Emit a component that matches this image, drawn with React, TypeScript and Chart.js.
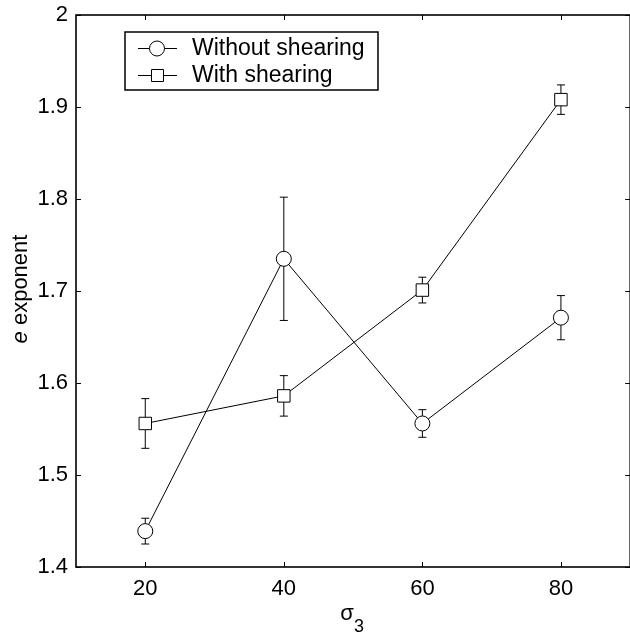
import { useEffect, useRef } from 'react';
import { Chart, registerables } from 'chart.js';

Chart.register(...registerables);

const sigma3 = [20, 40, 60, 80];
const withoutShearing = [1.439, 1.735, 1.556, 1.671];
const withoutShearingErr = [0.014, 0.067, 0.015, 0.024];
const withShearing = [1.556, 1.586, 1.701, 1.908];
const withShearingErr = [0.027, 0.022, 0.014, 0.016];
const seriesNames = ['Without shearing', 'With shearing'];
const xTickValues = [20, 40, 60, 80];
const yTickValues = [1.4, 1.5, 1.6, 1.7, 1.8, 1.9, 2.0];

const FONT = '"Liberation Sans", Arial, Helvetica, sans-serif';
const errors = [withoutShearingErr, withShearingErr];
const means = [withoutShearing, withShearing];

const errorBarPlugin = {
  id: 'errorBars',
  beforeDatasetsDraw(chart: any) {
    const { ctx } = chart;
    const xs = chart.scales.x;
    const ys = chart.scales.y;
    ctx.save();
    ctx.strokeStyle = '#000';
    ctx.lineWidth = 1;
    for (let d = 0; d < means.length; d++) {
      for (let i = 0; i < sigma3.length; i++) {
        const x = xs.getPixelForValue(sigma3[i]);
        const yt = ys.getPixelForValue(means[d][i] + errors[d][i]);
        const yb = ys.getPixelForValue(means[d][i] - errors[d][i]);
        ctx.beginPath();
        ctx.moveTo(x, yt);
        ctx.lineTo(x, yb);
        ctx.moveTo(x - 4, yt);
        ctx.lineTo(x + 4, yt);
        ctx.moveTo(x - 4, yb);
        ctx.lineTo(x + 4, yb);
        ctx.stroke();
      }
    }
    ctx.restore();
  },
};

const framePlugin = {
  id: 'frame',
  afterDraw(chart: any) {
    const { ctx, chartArea } = chart;
    const { left, right, top, bottom } = chartArea;
    const xs = chart.scales.x;
    const ys = chart.scales.y;
    ctx.save();
    ctx.strokeStyle = '#000';
    ctx.lineWidth = 1;
    ctx.beginPath();
    for (const v of xTickValues) {
      const x = Math.round(xs.getPixelForValue(v)) + 0.5;
      ctx.moveTo(x, bottom);
      ctx.lineTo(x, bottom - 5);
      ctx.moveTo(x, top);
      ctx.lineTo(x, top + 5);
    }
    for (const v of yTickValues) {
      const y = Math.round(ys.getPixelForValue(v)) + 0.5;
      ctx.moveTo(left, y);
      ctx.lineTo(left + 5, y);
      ctx.moveTo(right, y);
      ctx.lineTo(right - 5, y);
    }
    ctx.stroke();
    ctx.lineWidth = 1.6;
    ctx.strokeRect(left, top, right - left, bottom - top);

    // legend
    const lx = 125, ly = 32, lw = 253, lh = 58;
    ctx.fillStyle = '#fff';
    ctx.fillRect(lx, ly, lw, lh);
    ctx.lineWidth = 1.5;
    ctx.strokeRect(lx, ly, lw, lh);
    const rows = [48, 75];
    ctx.lineWidth = 1;
    ctx.font = `23px ${FONT}`;
    ctx.textBaseline = 'middle';
    ctx.textAlign = 'left';
    rows.forEach((ry, i) => {
      ctx.strokeStyle = '#000';
      ctx.beginPath();
      ctx.moveTo(138, ry + 0.5);
      ctx.lineTo(177, ry + 0.5);
      ctx.stroke();
      ctx.fillStyle = '#fff';
      ctx.beginPath();
      if (i === 0) {
        ctx.arc(157, ry + 0.5, 7.5, 0, Math.PI * 2);
      } else {
        ctx.rect(151.5, ry - 5.5, 12, 12);
      }
      ctx.fill();
      ctx.stroke();
      ctx.fillStyle = '#000';
      ctx.fillText(seriesNames[i], 192, ry + 1);
    });

    // y title
    ctx.save();
    ctx.translate(27, (top + bottom) / 2 - 2);
    ctx.rotate(-Math.PI / 2);
    ctx.textBaseline = 'alphabetic';
    ctx.font = `italic 22px ${FONT}`;
    const w1 = ctx.measureText('e').width;
    ctx.font = `22px ${FONT}`;
    const w2 = ctx.measureText(' exponent').width;
    const start = -(w1 + w2) / 2;
    ctx.font = `italic 22px ${FONT}`;
    ctx.fillText('e', start, 0);
    ctx.font = `22px ${FONT}`;
    ctx.fillText(' exponent', start + w1, 0);
    ctx.restore();

    // x title
    ctx.font = `22px ${FONT}`;
    ctx.textBaseline = 'alphabetic';
    const sw = ctx.measureText('σ').width;
    ctx.font = `18px ${FONT}`;
    const tw = ctx.measureText('3').width;
    const cx = (left + right) / 2 - 1;
    const sx = cx - (sw + tw) / 2;
    ctx.font = `22px ${FONT}`;
    ctx.fillText('σ', sx, 620);
    ctx.font = `18px ${FONT}`;
    ctx.fillText('3', sx + sw, 632);
    ctx.restore();
  },
};

export default function App() {
  const ref = useRef<HTMLCanvasElement | null>(null);
  useEffect(() => {
    if (!ref.current) return;
    const chart = new Chart(ref.current, {
      type: 'line',
      data: {
        datasets: [
          {
            label: seriesNames[0],
            data: sigma3.map((x, i) => ({ x, y: withoutShearing[i] })),
            borderColor: '#000',
            borderWidth: 1,
            pointStyle: 'circle',
            pointRadius: 7.5,
            pointBackgroundColor: '#fff',
            pointBorderColor: '#000',
            pointBorderWidth: 1,
            tension: 0,
            fill: false,
          },
          {
            label: seriesNames[1],
            data: sigma3.map((x, i) => ({ x, y: withShearing[i] })),
            borderColor: '#000',
            borderWidth: 1,
            pointStyle: 'rect',
            pointRadius: 8.8,
            pointBackgroundColor: '#fff',
            pointBorderColor: '#000',
            pointBorderWidth: 1,
            tension: 0,
            fill: false,
          },
        ],
      },
      options: {
        responsive: false,
        animation: false,
        devicePixelRatio: 1,
        layout: { padding: { top: 15, right: 5, left: 0, bottom: 0 } },
        plugins: { legend: { display: false }, tooltip: { enabled: false } },
        scales: {
          x: {
            type: 'linear',
            min: 10,
            max: 90,
            grid: { display: false, drawTicks: false },
            border: { display: false },
            ticks: {
              padding: 9,
              color: '#000',
              font: { family: FONT, size: 22 },
              maxRotation: 0,
              autoSkip: false,
            },
            afterBuildTicks: (s: any) => {
              s.ticks = xTickValues.map((v) => ({ value: v }));
            },
            afterFit: (s: any) => {
              s.height = 68;
              s.paddingLeft = 0;
              s.paddingRight = 0;
            },
          },
          y: {
            type: 'linear',
            min: 1.4,
            max: 2,
            grid: { display: false, drawTicks: false },
            border: { display: false },
            ticks: {
              padding: 8,
              color: '#000',
              font: { family: FONT, size: 22 },
              autoSkip: false,
              callback: (v: any) => String(Math.round(Number(v) * 10) / 10),
            },
            afterBuildTicks: (s: any) => {
              s.ticks = yTickValues.map((v) => ({ value: v }));
            },
            afterFit: (s: any) => {
              s.width = 76;
              s.paddingTop = 0;
              s.paddingBottom = 0;
            },
          },
        },
      },
      plugins: [errorBarPlugin, framePlugin],
    } as any);
    return () => chart.destroy();
  }, []);
  return (
    <div style={{ position: 'absolute', left: 0, top: 0, width: 630, height: 635, overflow: 'hidden', background: '#fff' }}>
      <canvas ref={ref} width={640} height={635} style={{ width: 640, height: 635, display: 'block' }} />
    </div>
  );
}
